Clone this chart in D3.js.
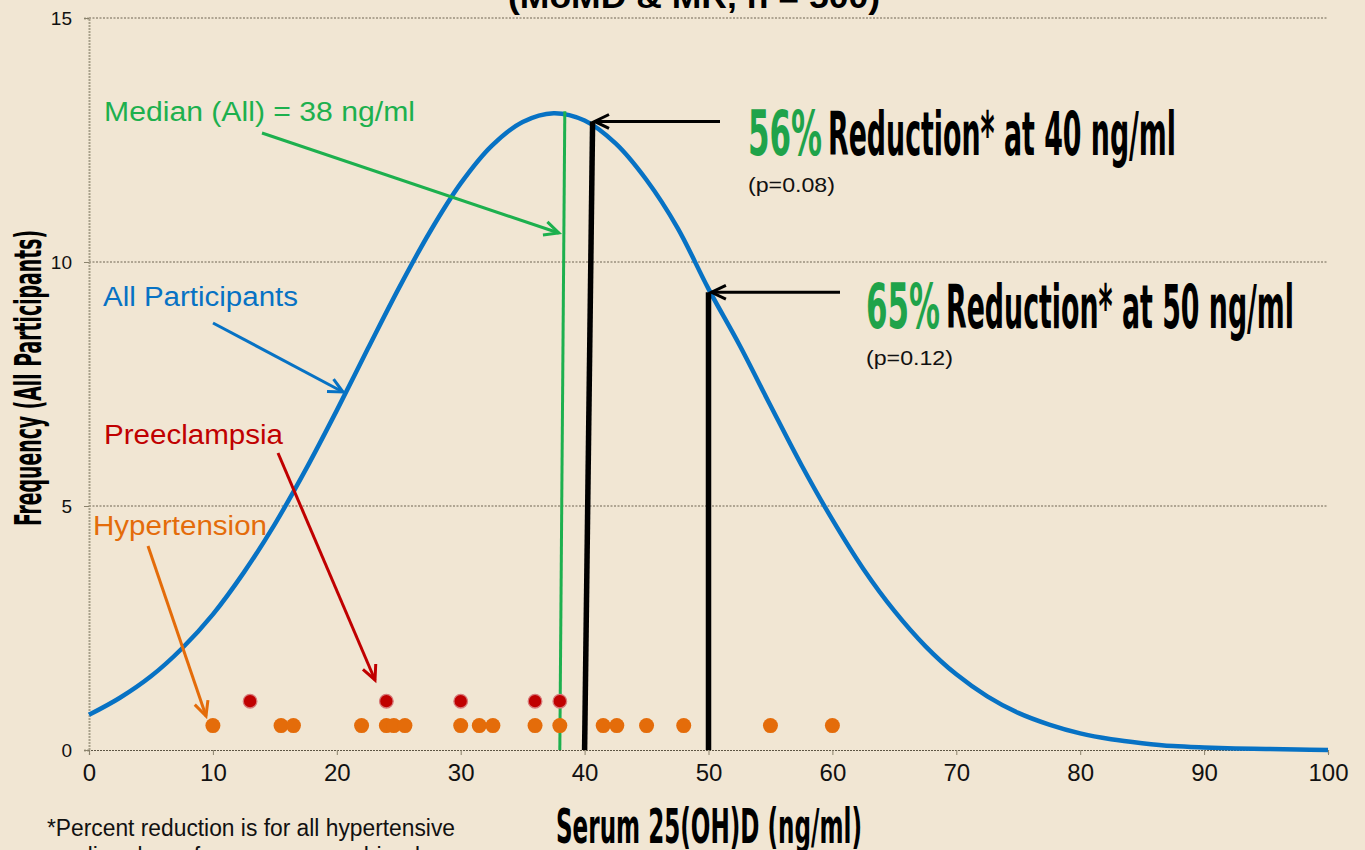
<!DOCTYPE html>
<html><head><meta charset="utf-8">
<script src="https://cdn.jsdelivr.net/npm/d3@7"></script>
<style>
html,body{margin:0;padding:0;background:#F1E6D3;}
svg{display:block;}
</style></head>
<body>
<script>
// ---------- data ----------
const curveX = [0,2.5,5,7.5,10,12.5,15,17.5,20,22.5,25,27.5,30,32.5,35,37.5,40,42.5,45,47.5,50,52.5,55,57.5,60,62.5,65,67.5,70,72.5,75,77.5,80,82.5,85,87.5,90,92.5,95,97.5,100];
const curveY = [0.72,1.07,1.51,2.08,2.78,3.64,4.63,5.75,6.96,8.22,9.46,10.61,11.61,12.38,12.87,13.05,12.90,12.43,11.68,10.70,9.45,8.30,7.06,5.84,4.72,3.71,2.85,2.13,1.55,1.10,0.76,0.52,0.34,0.22,0.14,0.08,0.05,0.03,0.02,0.01,0.0];
const hypertension = [10,15.5,16.5,22,24,24.6,25.5,30,31.5,32.6,36,38,41.5,42.6,45,48,55,60];
const preeclampsia = [13,24,30,36,38];
const hyperLevel = 0.5, preLevel = 1;
const xTicks = [0,10,20,30,40,50,60,70,80,90,100];
const yTicks = [0,5,10,15];
const medianValue = 38;
const cut1 = {x:40, pct:"56%", text:"Reduction* at 40 ng/ml", p:"(p=0.08)"};
const cut2 = {x:50, pct:"65%", text:"Reduction* at 50 ng/ml", p:"(p=0.12)"};

// ---------- setup ----------
const W=1365,H=850;
const svg=d3.select("body").append("svg").attr("width",W).attr("height",H);
svg.append("rect").attr("width",W).attr("height",H).attr("fill","#F1E6D3");
const x=d3.scaleLinear().domain([0,100]).range([89,1328]);
const y=d3.scaleLinear().domain([0,15]).range([750,18]);
const FONT="'Liberation Sans', Arial, sans-serif";
const COND="'Liberation Sans Narrow','DejaVu Sans Condensed',sans-serif";

// title (cut off at the top)
svg.append("text").attr("x",694).attr("y",8).attr("text-anchor","middle")
  .attr("font-family",FONT).attr("font-weight","bold").attr("font-size",34)
  .attr("textLength",372).attr("lengthAdjust","spacingAndGlyphs")
  .text("(MoMD & MR, n = 500)");

// gridlines
svg.append("g").selectAll("line").data(yTicks.filter(d=>d>0)).join("line")
  .attr("x1",x(0)).attr("x2",x(100)).attr("y1",d=>y(d)).attr("y2",d=>y(d))
  .attr("stroke","#6e6552").attr("stroke-width",1).attr("stroke-dasharray","2,1.5");

// y axis
const yAxis=svg.append("g").attr("transform",`translate(${x(0)},0)`)
  .call(d3.axisLeft(y).tickValues(yTicks).tickSize(5).tickPadding(12));
yAxis.select(".domain").attr("stroke","#a8a08a").attr("stroke-width",2).attr("stroke-dasharray","2,1");
yAxis.selectAll(".tick line").attr("stroke","#8a826c");
yAxis.selectAll("text").attr("font-family",FONT).attr("font-size",19).attr("fill","#111");

// x axis
const xAxis=svg.append("g").attr("transform",`translate(0,${y(0)})`)
  .call(d3.axisBottom(x).tickValues(xTicks).tickSize(5).tickPadding(9));
xAxis.select(".domain").attr("stroke","#5e5645").attr("stroke-width",1.2).attr("stroke-dasharray","2,1");
xAxis.selectAll(".tick line").attr("stroke","#8a826c");
xAxis.selectAll("text").attr("font-family",FONT).attr("font-size",24).attr("fill","#111");

// axis titles
svg.append("text").attr("x",709).attr("y",843).attr("text-anchor","middle")
  .attr("font-family",COND).attr("font-weight","bold").attr("font-size",48)
  .attr("textLength",306).attr("lengthAdjust","spacingAndGlyphs")
  .text("Serum 25(OH)D (ng/ml)");
svg.append("text").attr("transform","translate(41,378) rotate(-90)").attr("text-anchor","middle")
  .attr("font-family",COND).attr("font-weight","bold").attr("font-size",38)
  .attr("textLength",296).attr("lengthAdjust","spacingAndGlyphs")
  .text("Frequency (All Participants)");

// footnote
svg.append("text").attr("x",47).attr("y",836).attr("font-family",FONT).attr("font-size",23).attr("fill","#111")
  .attr("textLength",408).attr("lengthAdjust","spacingAndGlyphs")
  .text("*Percent reduction is for all hypertensive");
svg.append("text").attr("x",250).attr("y",864).attr("text-anchor","middle").attr("font-family",FONT).attr("font-size",23).attr("fill","#111")
  .text("disorders of pregnancy combined");

// helper: arrow with open head
function arrow(g,x1,y1,x2,y2,color,w,head){
  g.append("line").attr("x1",x1).attr("y1",y1).attr("x2",x2).attr("y2",y2)
    .attr("stroke",color).attr("stroke-width",w);
  const a=Math.atan2(y2-y1,x2-x1), h=head||14, s=0.45;
  const p1=[x2-h*Math.cos(a-s),y2-h*Math.sin(a-s)], p2=[x2-h*Math.cos(a+s),y2-h*Math.sin(a+s)];
  g.append("path").attr("d",`M${p1}L${x2},${y2}L${p2}`).attr("fill","none")
    .attr("stroke",color).attr("stroke-width",w).attr("stroke-linejoin","miter");
}
const ann=svg.append("g");

// curve
const pts=curveX.map((d,i)=>[d,curveY[i]]);
svg.append("path").datum(pts)
  .attr("d",d3.line().x(d=>x(d[0])).y(d=>y(d[1])).curve(d3.curveCatmullRom))
  .attr("fill","none").attr("stroke","#0772C4").attr("stroke-width",4.5);

// median line
svg.append("line").attr("x1",x(medianValue)).attr("y1",y(0)).attr("x2",x(medianValue)+5).attr("y2",y(13.05)-2)
  .attr("stroke","#1DB04E").attr("stroke-width",3);

// reduction lines
svg.append("line").attr("x1",x(cut1.x)).attr("y1",y(0)).attr("x2",x(cut1.x)+8).attr("y2",y(12.88))
  .attr("stroke","#000").attr("stroke-width",5.5);
svg.append("line").attr("x1",x(cut2.x)).attr("y1",y(0)).attr("x2",x(cut2.x)).attr("y2",y(9.38))
  .attr("stroke","#000").attr("stroke-width",5.5);
arrow(svg,720,y(12.88),x(cut1.x)+10,y(12.88),"#000",3,16);
arrow(svg,840,y(9.38),x(cut2.x)+3,y(9.38),"#000",3,16);

// dots
svg.append("g").selectAll("circle").data(hypertension).join("circle")
  .attr("cx",d=>x(d)).attr("cy",y(hyperLevel)).attr("r",7.5).attr("fill","#E46C0A");
svg.append("g").selectAll("circle").data(preeclampsia).join("circle")
  .attr("cx",d=>x(d)).attr("cy",y(preLevel)).attr("r",6.8).attr("fill","#C00000")
  .attr("stroke","#d77a7a").attr("stroke-width",1.3);

// annotations
function label(tx,ty,txt,color,len){
  svg.append("text").attr("x",tx).attr("y",ty).attr("font-family",FONT).attr("font-size",27).attr("fill",color)
    .attr("textLength",len).attr("lengthAdjust","spacingAndGlyphs").text(txt);
}
label(104,121,"Median  (All) = 38 ng/ml","#1DB04E",311);
arrow(ann,262,133,x(medianValue)-1,233,"#1DB04E",3,16);
label(103,306,"All Participants","#0772C4",195);
arrow(ann,213,323,343,392,"#0772C4",3,16);
label(104,444,"Preeclampsia","#C00000",179);
arrow(ann,278,453,375,680,"#C00000",3,16);
label(93,535,"Hypertension","#E46C0A",174);
arrow(ann,148,546,206,716,"#E46C0A",3,16);
ann.raise();

// big reduction labels
function bigLabel(c,x0,base){
  svg.append("text").attr("x",x0).attr("y",base).attr("font-family",COND).attr("font-weight","bold")
    .attr("font-size",62).attr("fill","#1FA34A").attr("textLength",74).attr("lengthAdjust","spacingAndGlyphs").text(c.pct);
  svg.append("text").attr("x",x0+80).attr("y",base).attr("font-family",COND).attr("font-weight","bold")
    .attr("font-size",60).attr("fill","#000").attr("textLength",348).attr("lengthAdjust","spacingAndGlyphs").text(c.text);
  svg.append("text").attr("x",x0).attr("y",base+37).attr("font-family",FONT).attr("font-size",20).attr("fill","#111")
    .attr("textLength",87).attr("lengthAdjust","spacingAndGlyphs").text(c.p);
}
bigLabel(cut1,748,155);
bigLabel(cut2,866,328);
</script>
</body></html>
